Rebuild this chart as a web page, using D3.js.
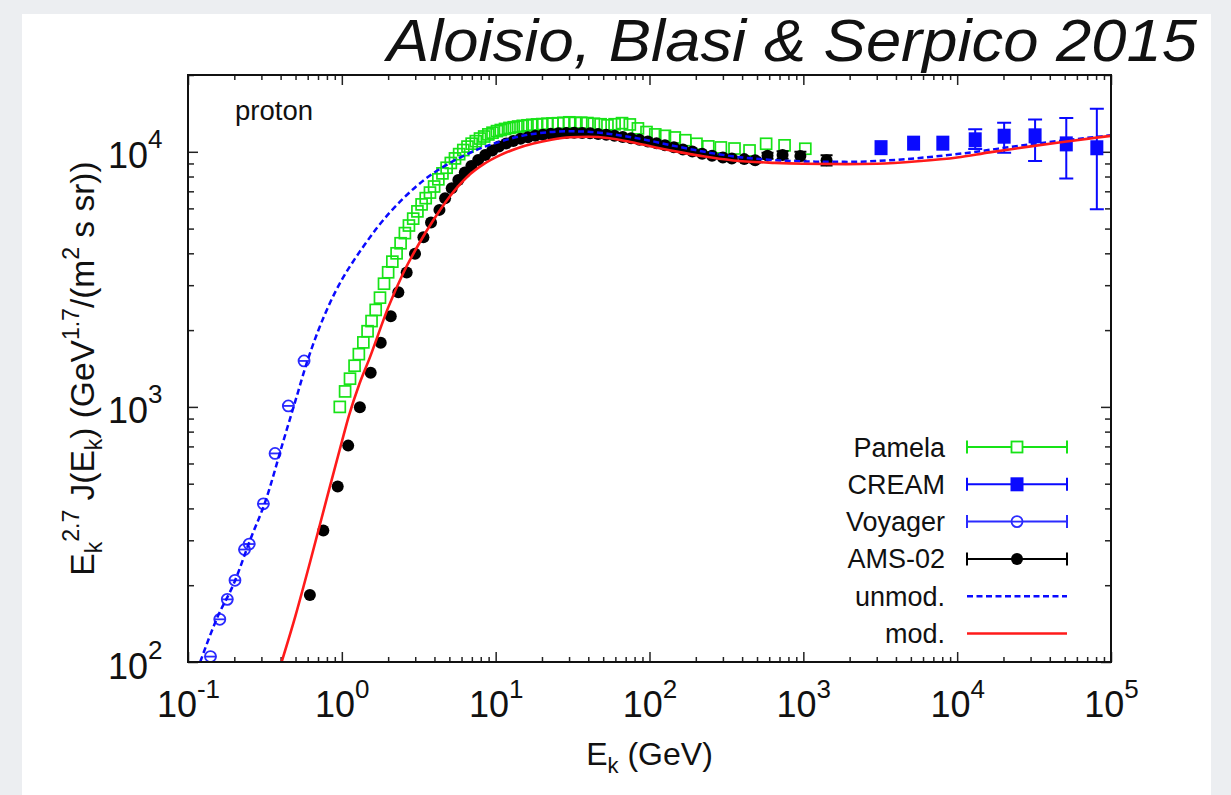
<!DOCTYPE html>
<html>
<head>
<meta charset="utf-8">
<script src="https://cdnjs.cloudflare.com/ajax/libs/d3/7.8.5/d3.min.js"></script>
<style>
body { margin: 0; background: #eceef1; }
text { font-family: "Liberation Sans", Arial, Helvetica, sans-serif; fill: #111; }
</style>
</head>
<body>
<svg id="chart" width="1231" height="795"></svg>
<script>
// ---- data (E in GeV, F = E^2.7 J) ----
const pamelaE = [0.97, 1.05, 1.13, 1.21, 1.29, 1.38, 1.47, 1.56, 1.66, 1.77, 1.88, 2.00, 2.13, 2.27, 2.41, 2.57, 2.73, 2.91, 3.10, 3.30,
  3.51, 3.74, 3.98, 4.24, 4.51, 4.80, 5.11, 5.44, 5.79, 6.16, 6.56, 6.98, 7.43, 7.91, 8.42, 8.96, 9.54, 10.2, 10.8, 11.5,
  12.3, 13.1, 14.0, 15.0, 16.1, 17.3, 18.6, 20.1, 21.7, 23.4, 25.4, 27.6, 30.1, 32.9, 36.0, 39.5, 43.5, 48.1, 53.3, 59.3,
  66.3, 74.5, 84.1, 95.6, 109, 126, 146, 171, 202, 241, 291, 357, 447, 573, 755, 1030];
const pamelaF = [1000, 1150, 1290, 1450, 1610, 1790, 1980, 2170, 2400, 2680, 3040, 3370, 3710, 4000, 4380, 4800, 5140, 5470, 5840, 6220,
  6580, 6920, 7310, 7800, 8230, 8660, 9040, 9420, 9790, 10160, 10480, 10760, 11010, 11270, 11480, 11700, 11880, 12050, 12170, 12290,
  12400, 12480, 12560, 12640, 12700, 12760, 12800, 12840, 12880, 12910, 12940, 12990, 13050, 12980, 13000, 12960, 12880, 12820, 12700, 12820,
  12950, 12800, 12350, 11950, 11700, 11550, 11380, 11100, 10750, 10500, 10400, 10300, 10120, 10750, 10600, 10280];

const amsE = [0.62, 0.758, 0.94, 1.10, 1.31, 1.54, 1.79, 2.08, 2.33, 2.64, 2.99, 3.39, 3.80, 4.31, 4.69, 5.18, 5.72, 6.30, 6.95, 7.70,
  8.55, 9.50, 10.5, 11.7, 13.0, 14.5, 16.2, 18.1, 20.3, 22.8, 25.6, 28.8, 32.4, 36.5, 41.1, 46.4, 52.4, 59.2, 67.0, 75.9,
  86.0, 97.6, 111, 126, 144, 165, 190, 220, 255, 300, 343, 413, 486, 585, 733, 957, 1416];
const amsF = [183, 328, 487, 705, 997, 1361, 1783, 2264, 2813, 3365, 3983, 4625, 5280, 5920, 6570, 7190, 7750, 8300, 8800, 9280,
  9720, 10120, 10480, 10780, 11030, 11240, 11410, 11550, 11670, 11760, 11820, 11860, 11870, 11850, 11810, 11750, 11660, 11560, 11440, 11300,
  11140, 10970, 10790, 10600, 10420, 10220, 10020, 9820, 9640, 9500, 9420, 9360, 9270, 9660, 9720, 9630, 9270];
const amsErr = [0, 0, 0, 0, 0, 0, 0, 0, 0, 0, 0, 0, 0, 0, 0, 0, 0, 0, 0, 0,
  0, 0, 0, 0, 0, 0, 0, 0, 0, 0, 0, 0, 0, 0, 0, 0, 0, 0, 0, 0,
  0, 0, 0, 0, 0, 0, 0, 0, 0, 0, 150, 170, 200, 260, 320, 380, 430];

const voyagerE = [0.14, 0.161, 0.180, 0.202, 0.233, 0.250, 0.309, 0.368, 0.449, 0.568];
const voyagerF = [105, 147, 176, 209, 276, 290, 417, 657, 1009, 1514];

const creamE = [3200, 5210, 8070, 13100, 20200, 32100, 51200, 80900];
const creamF = [10380, 10810, 10810, 11140, 11510, 11550, 10740, 10370];
const creamLo = [10380, 10810, 10810, 10245, 9911, 9199, 7866, 5952];
const creamHi = [10380, 10810, 10810, 12266, 12983, 13386, 13580, 14752];

const unmodE = [0.12, 0.154, 0.2, 0.253, 0.32, 0.417, 0.5, 0.59, 0.7, 0.838, 1.0, 1.2, 1.38, 1.7, 2.06, 2.5, 3.07, 4.0, 5.05, 6.5,
  8.3, 10.5, 13.7, 18, 22.6, 30, 40, 55, 90, 150, 250, 400, 700, 1200, 2000, 4000, 10000, 30000, 100000];
const unmodF = [100, 148, 205, 300, 430, 736, 1060, 1480, 1980, 2560, 3150, 3760, 4250, 5050, 5800, 6550, 7350, 8300, 9050, 9780,
  10420, 10930, 11420, 11780, 11950, 12030, 11980, 11750, 11200, 10500, 9900, 9500, 9250, 9150, 9130, 9300, 9800, 10700, 11600];

const modE = [0.406, 0.5, 0.62, 0.8, 1.0, 1.11, 1.3, 1.52, 2.0, 2.51, 3.2, 3.94, 5.0, 6.49, 8.5, 10.7, 14, 17.6, 23, 30.5,
  40, 55, 77, 110, 160, 223, 350, 652, 1000, 1900, 3000, 5550, 10000, 16200, 30000, 47200, 100000];
const modF = [100, 152, 245, 440, 730, 920, 1230, 1560, 2450, 3350, 4400, 5400, 6650, 7950, 9000, 9700, 10350, 10770, 11150, 11400,
  11450, 11300, 10900, 10400, 9950, 9600, 9250, 9050, 8980, 8950, 8980, 9180, 9500, 9950, 10500, 10900, 11550];

const xMajor = [0.1, 1, 10, 100, 1e3, 1e4, 1e5];
const xExp = ["-1", "0", "1", "2", "3", "4", "5"];
const yMajor = [100, 1000, 10000];
const yExp = ["2", "3", "4"];

const legendNames = ["Pamela", "CREAM", "Voyager", "AMS-02", "unmod.", "mod."];

const green = "#17e317", blue = "#0a0aff", vblue = "#2b2bff", red = "#ff1a1a";

// ---- layout ----
const L = 188, R = 1111, T = 75, B = 662;
const svg = d3.select("#chart");

svg.append("rect").attr("width", 1231).attr("height", 795).attr("fill", "#eceef1");
svg.append("rect").attr("x", 22).attr("y", 14).attr("width", 1189).attr("height", 790).attr("fill", "#fff");

const x = d3.scaleLog().domain([0.1, 1e5]).range([L, R]);
const y = d3.scaleLog().domain([100, 2e4]).range([B, T]);

svg.append("defs").append("clipPath").attr("id", "clip")
  .append("rect").attr("x", L).attr("y", T).attr("width", R - L).attr("height", B - T);

// ---- axes ----
const xMinor = x.ticks().filter(d => !xMajor.some(m => Math.abs(m - d) / m < 1e-6));
const yMinor = y.ticks().filter(d => !yMajor.some(m => Math.abs(m - d) / m < 1e-6));

function styleAxis(g) {
  g.select(".domain").remove();
  g.selectAll(".tick line").attr("stroke", "#222").attr("stroke-width", 1.5);
}

const xb = svg.append("g").attr("transform", `translate(0,${B})`)
  .call(d3.axisBottom(x).tickValues(xMajor).tickSizeInner(-10).tickSizeOuter(0).tickPadding(29).tickFormat(() => "10"));
xb.call(styleAxis);
xb.selectAll(".tick text").attr("font-size", 36).attr("font-family", null).attr("fill", "#111")
  .each(function(d, i) {
    d3.select(this).append("tspan").attr("dy", -19).attr("font-size", 26).text(xExp[i]);
  });
svg.append("g").attr("transform", `translate(0,${B})`)
  .call(d3.axisBottom(x).tickValues(xMinor).tickSizeInner(-5).tickSizeOuter(0).tickFormat(""))
  .call(styleAxis);
svg.append("g").attr("transform", `translate(0,${T})`)
  .call(d3.axisTop(x).tickValues(xMajor).tickSizeInner(-10).tickSizeOuter(0).tickFormat(""))
  .call(styleAxis);
svg.append("g").attr("transform", `translate(0,${T})`)
  .call(d3.axisTop(x).tickValues(xMinor).tickSizeInner(-5).tickSizeOuter(0).tickFormat(""))
  .call(styleAxis);

const yl = svg.append("g").attr("transform", `translate(${L},0)`)
  .call(d3.axisLeft(y).tickValues(yMajor).tickSizeInner(-10).tickSizeOuter(0).tickPadding(38).tickFormat(() => "10"));
yl.call(styleAxis);
yl.selectAll(".tick text").attr("font-size", 36).attr("font-family", null).attr("fill", "#111")
  .attr("dy", 16).attr("text-anchor", "start")
  .attr("x", -80)
  .each(function(d, i) {
    d3.select(this).append("tspan").attr("dy", -20).attr("font-size", 26).text(yExp[i]);
  });
svg.append("g").attr("transform", `translate(${L},0)`)
  .call(d3.axisLeft(y).tickValues(yMinor).tickSizeInner(-6).tickSizeOuter(0).tickFormat(""))
  .call(styleAxis);
svg.append("g").attr("transform", `translate(${R},0)`)
  .call(d3.axisRight(y).tickValues(yMajor).tickSizeInner(-10).tickSizeOuter(0).tickFormat(""))
  .call(styleAxis);
svg.append("g").attr("transform", `translate(${R},0)`)
  .call(d3.axisRight(y).tickValues(yMinor).tickSizeInner(-6).tickSizeOuter(0).tickFormat(""))
  .call(styleAxis);

// ---- data marks ----
const plot = svg.append("g").attr("clip-path", "url(#clip)");

// Pamela: open green squares
const pam = pamelaE.map((e, i) => [e, pamelaF[i]]);
plot.append("g").selectAll("rect").data(pam).join("rect")
  .attr("x", d => x(d[0]) - 5.5).attr("y", d => y(d[1]) - 5.5)
  .attr("width", 11).attr("height", 11)
  .attr("fill", "none").attr("stroke", green).attr("stroke-width", 1.7);

// AMS-02: filled black circles (+ small error bars at high energy)
const ams = amsE.map((e, i) => [e, amsF[i], amsErr[i]]);
const amsG = plot.append("g");
amsG.selectAll("path").data(ams.filter(d => d[2] > 0)).join("path")
  .attr("d", d => {
    const cx = x(d[0]), y0 = y(d[1] - d[2]), y1 = y(d[1] + d[2]);
    return `M${cx},${y0}V${y1}M${cx - 6},${y0}H${cx + 6}M${cx - 6},${y1}H${cx + 6}`;
  })
  .attr("stroke", "#000").attr("stroke-width", 2).attr("fill", "none");
amsG.selectAll("circle").data(ams).join("circle")
  .attr("cx", d => x(d[0])).attr("cy", d => y(d[1])).attr("r", 6).attr("fill", "#000");

// Voyager: open blue circles with bar
const voy = voyagerE.map((e, i) => [e, voyagerF[i]]);
const voyG = plot.append("g").attr("stroke", vblue).attr("stroke-width", 1.8).attr("fill", "none");
voyG.selectAll("circle").data(voy).join("circle")
  .attr("cx", d => x(d[0])).attr("cy", d => y(d[1])).attr("r", 5.5);
voyG.selectAll("line").data(voy).join("line")
  .attr("x1", d => x(d[0]) - 6).attr("x2", d => x(d[0]) + 6)
  .attr("y1", d => y(d[1])).attr("y2", d => y(d[1]));

// CREAM: filled blue squares with error bars
const cream = creamE.map((e, i) => [e, creamF[i], creamLo[i], creamHi[i]]);
const crG = plot.append("g");
crG.selectAll("path").data(cream.filter(d => d[3] > d[2])).join("path")
  .attr("d", d => {
    const cx = x(d[0]), y0 = y(d[2]), y1 = y(d[3]);
    return `M${cx},${y0}V${y1}M${cx - 7},${y0}H${cx + 7}M${cx - 7},${y1}H${cx + 7}`;
  })
  .attr("stroke", blue).attr("stroke-width", 2).attr("fill", "none");
crG.selectAll("rect").data(cream).join("rect")
  .attr("x", d => x(d[0]) - 6.5).attr("y", d => y(d[1]) - 7.5)
  .attr("width", 13).attr("height", 15).attr("fill", blue);

// model curves
const line = d3.line().x(d => x(d[0])).y(d => y(d[1])).curve(d3.curveMonotoneX);
plot.append("path").datum(unmodE.map((e, i) => [e, unmodF[i]]))
  .attr("d", line).attr("fill", "none").attr("stroke", blue)
  .attr("stroke-width", 2.5).attr("stroke-dasharray", "6,3.5");
plot.append("path").datum(modE.map((e, i) => [e, modF[i]]))
  .attr("d", line).attr("fill", "none").attr("stroke", red).attr("stroke-width", 2.6);

// frame
svg.append("rect").attr("x", L).attr("y", T).attr("width", R - L).attr("height", B - T)
  .attr("fill", "none").attr("stroke", "#111").attr("stroke-width", 2);

// ---- legend ----
const lg = svg.append("g");
const legY0 = 447, legDy = 37.3, lx0 = 967, lx1 = 1067, lmid = 1017;
legendNames.forEach((name, i) => {
  const ly = legY0 + i * legDy;
  lg.append("text").attr("x", 945).attr("y", ly + 9.5).attr("text-anchor", "end")
    .attr("font-size", 27).text(name);
  if (i < 4) {
    const col = [green, blue, vblue, "#000"][i];
    lg.append("path")
      .attr("d", `M${lx0},${ly}H${lx1}M${lx0},${ly - 6.5}V${ly + 6.5}M${lx1},${ly - 6.5}V${ly + 6.5}`)
      .attr("stroke", col).attr("stroke-width", 2).attr("fill", "none");
    if (i === 0) lg.append("rect").attr("x", lmid - 5.5).attr("y", ly - 5.5).attr("width", 11).attr("height", 11)
      .attr("fill", "#fff").attr("stroke", green).attr("stroke-width", 1.8);
    if (i === 1) lg.append("rect").attr("x", lmid - 6.5).attr("y", ly - 7).attr("width", 13).attr("height", 14).attr("fill", blue);
    if (i === 2) lg.append("circle").attr("cx", lmid).attr("cy", ly).attr("r", 5.5)
      .attr("fill", "#fff").attr("stroke", vblue).attr("stroke-width", 1.8);
    if (i === 2) lg.append("line").attr("x1", lmid - 6).attr("x2", lmid + 6).attr("y1", ly).attr("y2", ly)
      .attr("stroke", vblue).attr("stroke-width", 1.8);
    if (i === 3) lg.append("circle").attr("cx", lmid).attr("cy", ly).attr("r", 6).attr("fill", "#000");
  } else if (i === 4) {
    lg.append("line").attr("x1", lx0).attr("x2", lx1).attr("y1", ly).attr("y2", ly)
      .attr("stroke", blue).attr("stroke-width", 2.5).attr("stroke-dasharray", "6,3.5");
  } else {
    lg.append("line").attr("x1", lx0).attr("x2", lx1).attr("y1", ly).attr("y2", ly)
      .attr("stroke", red).attr("stroke-width", 2.6);
  }
});

// ---- labels ----
svg.append("text").attr("x", 235).attr("y", 120).attr("font-size", 27.5).text("proton");

const xl = svg.append("text").attr("x", (L + R) / 2).attr("y", 765).attr("text-anchor", "middle").attr("font-size", 32);
xl.append("tspan").text("E");
xl.append("tspan").attr("font-size", 22).attr("dy", 8).text("k");
xl.append("tspan").attr("dy", -8).text(" (GeV)");

const ylab = svg.append("text").attr("transform", `translate(94,${(T + B) / 2}) rotate(-90)`)
  .attr("text-anchor", "middle").attr("font-size", 33.5);
ylab.append("tspan").text("E");
ylab.append("tspan").attr("font-size", 23).attr("dy", 8).text("k");
ylab.append("tspan").attr("font-size", 23).attr("dy", -23).text("2.7");
ylab.append("tspan").attr("dy", 15).text(" J(E");
ylab.append("tspan").attr("font-size", 23).attr("dy", 8).text("k");
ylab.append("tspan").attr("dy", -8).text(") (GeV");
ylab.append("tspan").attr("font-size", 23).attr("dy", -15).text("1.7");
ylab.append("tspan").attr("dy", 15).text("/(m");
ylab.append("tspan").attr("font-size", 23).attr("dy", -15).text("2");
ylab.append("tspan").attr("dy", 15).text(" s sr))");

svg.append("text").attr("x", 1197).attr("y", 61).attr("text-anchor", "end")
  .attr("font-size", 60).attr("font-style", "italic")
  .attr("textLength", 810).attr("lengthAdjust", "spacingAndGlyphs")
  .text("Aloisio, Blasi & Serpico 2015");
</script>
</body>
</html>
